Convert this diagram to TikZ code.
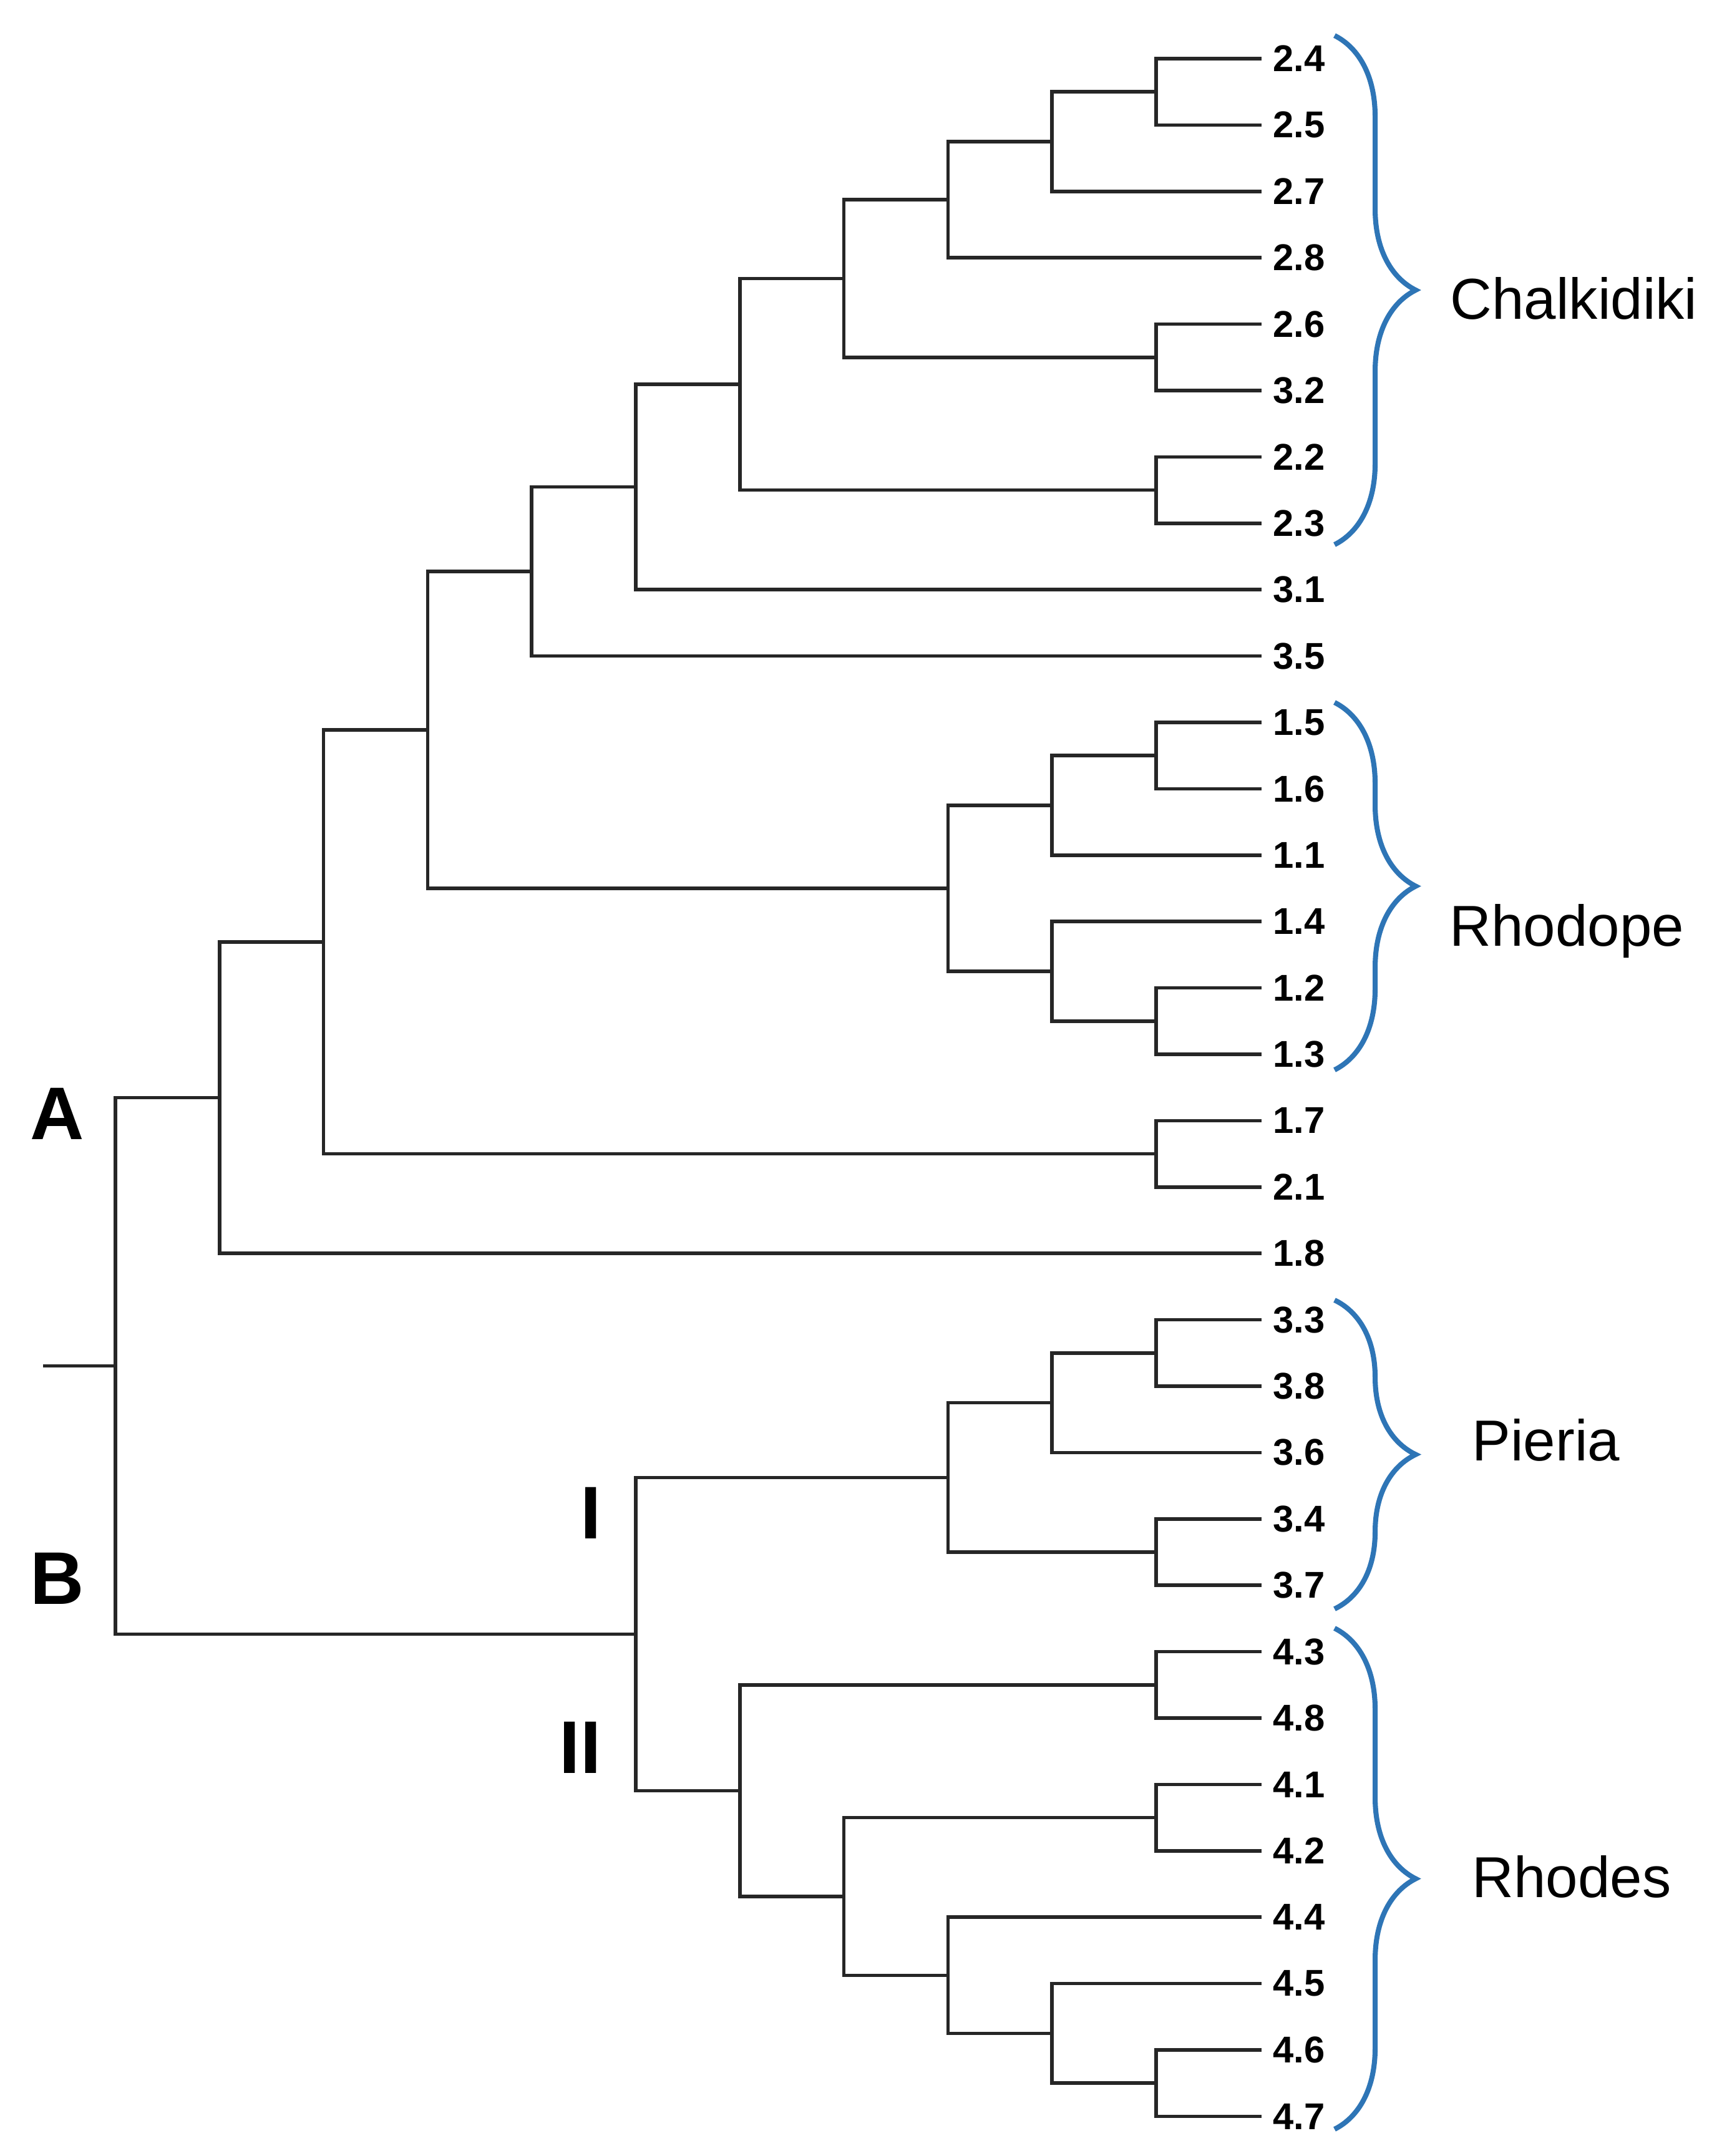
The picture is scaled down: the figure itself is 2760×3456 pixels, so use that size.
\documentclass[tikz,border=0pt]{standalone}
\usepackage{fontspec}
\setmainfont{Liberation Sans}
\usetikzlibrary{decorations.pathreplacing}
\definecolor{cladeblue}{RGB}{46,117,182}
\tikzset{
	branch/.style={line width=1.6pt, draw=black!85},
	leaf/.style={anchor=west, inner xsep=0.18cm, inner ysep=0pt, font=\fontsize{17}{20}\selectfont\bfseries},
	group/.style={anchor=base west, inner sep=0pt, font=\fontsize{26.3}{30}\selectfont},
	split/.style={inner sep=0pt, font=\fontsize{34}{40}\selectfont\bfseries},
	cladebrace/.style={decorate, decoration={brace, amplitude=1.3cm}, draw=cladeblue, line width=2.3pt}
}
\begin{document}
\begin{tikzpicture}[x=0.01cm, y=-0.01cm]
		\fill[white] (0,0) rectangle (2760,3456);

		\foreach \lab [count=\i from 0] in {2.4,2.5,2.7,2.8,2.6,3.2,2.2,2.3,3.1,3.5,1.5,1.6,1.1,1.4,1.2,1.3,1.7,2.1,1.8,3.3,3.8,3.6,3.4,3.7,4.3,4.8,4.1,4.2,4.4,4.5,4.6,4.7}
			\node[leaf] (leaf\i) at (2022,{94+106.4*\i}) {\lab};

		\coordinate(n1) at (1853,147.2);
		\coordinate(n2) at (1686.2,227);
		\coordinate(n3) at (1519.4,320.1);
		\coordinate(n4) at (1853,572.8);
		\coordinate(n5) at (1352.6,446.45);
		\coordinate(n6) at (1853,785.6);
		\coordinate(n7) at (1185.8,616);
		\coordinate(n8) at (1019,780.6);
		\coordinate(n9) at (852.2,916.1);
		\coordinate(r1) at (1853,1211.2);
		\coordinate(r2) at (1686.2,1291);
		\coordinate(r3) at (1853,1636.8);
		\coordinate(r4) at (1686.2,1557);
		\coordinate(r5) at (1519.4,1424);
		\coordinate(n10) at (685.4,1170.05);
		\coordinate(m1) at (1853,1849.6);
		\coordinate(n11) at (518.6,1509.8);
		\coordinate(cladeA) at (351.8,1759.5);
		\coordinate(p1) at (1853,2168.8);
		\coordinate(p2) at (1686.2,2248.6);
		\coordinate(p3) at (1853,2488);
		\coordinate(subI) at (1519.4,2368.3);
		\coordinate(q1) at (1853,2700.8);
		\coordinate(q2) at (1853,2913.6);
		\coordinate(q3) at (1853,3339.2);
		\coordinate(q4) at (1686.2,3259.4);
		\coordinate(q5) at (1519.4,3166.3);
		\coordinate(q6) at (1352.6,3039.95);
		\coordinate(subII) at (1185.8,2870.4);
		\coordinate(cladeB) at (1019,2619.35);
		\coordinate(root) at (185,2189.4);
		\coordinate(stub) at (69,2189.4);

		\foreach \p/\c in {n1/leaf0,n1/leaf1,n2/n1,n2/leaf2,n3/n2,n3/leaf3,n4/leaf4,n4/leaf5,n5/n3,n5/n4,n6/leaf6,n6/leaf7,n7/n5,n7/n6,n8/n7,n8/leaf8,n9/n8,n9/leaf9,r1/leaf10,r1/leaf11,r2/r1,r2/leaf12,r3/leaf14,r3/leaf15,r4/leaf13,r4/r3,r5/r2,r5/r4,n10/n9,n10/r5,m1/leaf16,m1/leaf17,n11/n10,n11/m1,cladeA/n11,cladeA/leaf18,p1/leaf19,p1/leaf20,p2/p1,p2/leaf21,p3/leaf22,p3/leaf23,subI/p2,subI/p3,q1/leaf24,q1/leaf25,q2/leaf26,q2/leaf27,q3/leaf30,q3/leaf31,q4/leaf29,q4/q3,q5/leaf28,q5/q4,q6/q2,q6/q5,subII/q1,subII/q6,cladeB/subI,cladeB/subII,root/cladeA,root/cladeB}
			\draw[branch] (\p) |- (\c);
		\draw[branch] (stub)--(root);

		\node[split] (labA) at (92,1785) {A};
		\node[split] (labB) at (92,2530) {B};
		\node[split, anchor=east] (labI) at (964,2425) {I};
		\node[split, anchor=east] (labII) at (964,2801) {II};

		\draw[cladebrace] (2139,57) -- (2139,873);
		\draw[cladebrace] (2139,1126) -- (2139,1715);
		\draw[cladebrace] (2139,2084) -- (2139,2579);
		\draw[cladebrace] (2139,2610) -- (2139,3413);

		\node[group] (chalkidiki) at (2324,511) {Chalkidiki};
		\node[group] (rhodope) at (2323,1516) {Rhodope};
		\node[group] (pieria) at (2359,2341) {Pieria};
		\node[group] (rhodes) at (2359,3041) {Rhodes};
\end{tikzpicture}
\end{document}
